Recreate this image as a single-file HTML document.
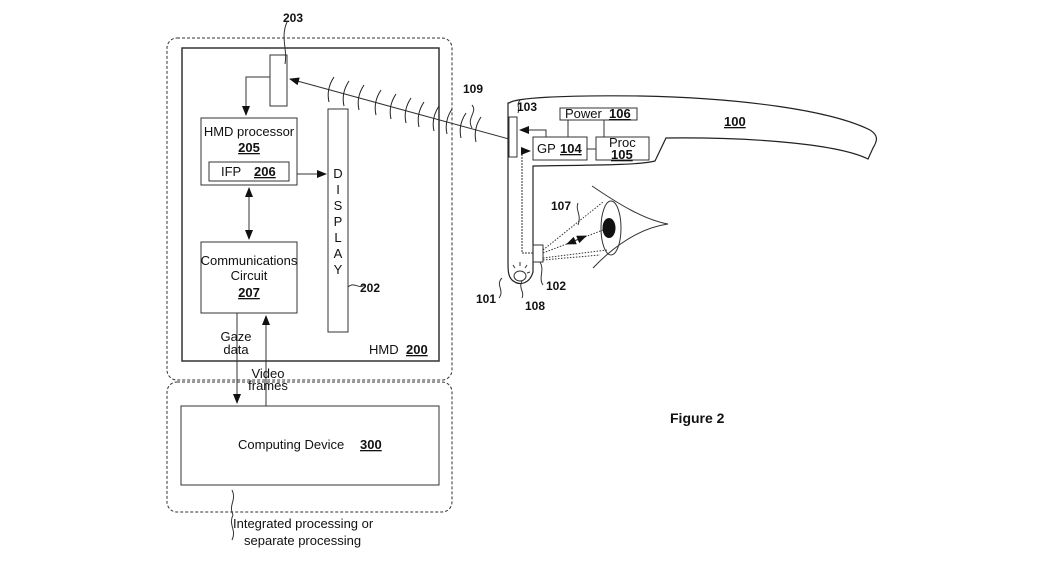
<!DOCTYPE html>
<html><head><meta charset="utf-8"><style>
html,body{margin:0;padding:0;background:#fff;}
svg{display:block;}
text{font-family:"Liberation Sans",Arial,sans-serif;fill:#111;}
.b{font-weight:bold;text-decoration:underline;}
</style></head><body>
<svg width="1046" height="571" viewBox="0 0 1046 571" xmlns="http://www.w3.org/2000/svg">
<defs>
<marker id="ar" markerWidth="10" markerHeight="8" refX="9" refY="4" orient="auto" markerUnits="userSpaceOnUse">
<path d="M0,0 L10,4 L0,8 z" fill="#111"/></marker>
<marker id="as" markerWidth="10" markerHeight="8" refX="1" refY="4" orient="auto" markerUnits="userSpaceOnUse">
<path d="M10,0 L0,4 L10,8 z" fill="#111"/></marker>
</defs>
<g fill="none" stroke="#333" stroke-width="1">
<rect x="167" y="38" width="285" height="342" rx="10" stroke-dasharray="3,2"/>
<rect x="167" y="382" width="285" height="130" rx="10" stroke-dasharray="3,2"/>
<rect x="182" y="48" width="257" height="313" stroke-width="1.5"/>
<rect x="270" y="55" width="17" height="51"/>
<rect x="201" y="118" width="96" height="67"/>
<rect x="209" y="162" width="80" height="19"/>
<rect x="328" y="109" width="20" height="223"/>
<rect x="201" y="242" width="96" height="71"/>
<rect x="181" y="406" width="258" height="79"/>
<path d="M270,77 H246 V115" marker-end="url(#ar)"/>
<path d="M297,174 H326" marker-end="url(#ar)"/>
<path d="M249,188 V239" marker-start="url(#as)" marker-end="url(#ar)"/>
<path d="M237,313 V403" marker-end="url(#ar)"/>
<path d="M266,406 V316" marker-end="url(#ar)"/>
<path d="M509,139 L290,79" marker-end="url(#ar)"/>
<path d="M285,64 C288,50 280,38 287,22"/>
<path d="M348,287 C355,281 358,290 365,285"/>
<path d="M233,515 C228,505 237,500 232,490 M233,515 C228,525 237,530 232,540" />
<path d="M472,105 C478,112 466,118 472,128" />
</g>
<g fill="none" stroke="#222" stroke-width="1">
<path d="M334,77 Q326,89 329,102"/><path d="M349,81 Q341,93 344,106"/>
<path d="M364,85 Q356,97 359,110"/><path d="M381,90 Q373,102 376,115"/>
<path d="M396,94 Q388,106 391,119"/><path d="M411,98 Q403,110 406,123"/>
<path d="M424,102 Q416,114 419,127"/><path d="M439,106 Q431,118 434,131"/>
<path d="M452,109 Q444,121 447,134"/><path d="M466,113 Q458,125 461,138"/>
<path d="M481,117 Q473,129 476,142"/>
</g>
<g fill="none" stroke="#222" stroke-width="1.2">
<path d="M509,103 C515,98 560,95 640,96 C740,98 830,110 870,130 C878,135 878,140 873,148 L868,159 C840,145 760,137 666,138 L655,161 C640,165 600,165 533,166 L533,272 C530,283 520,287 512,280 C508,276 508,270 508,262 L508,103 Z"/>
</g>
<g fill="none" stroke="#333" stroke-width="1">
<rect x="509" y="117" width="8" height="40" fill="#fff"/>
<rect x="560" y="108" width="77" height="12"/>
<rect x="533" y="137" width="54" height="23"/>
<rect x="596" y="137" width="53" height="23"/>
<path d="M568,120 V137 M604,120 V137 M587,149 H596"/>
<path d="M546,137 V130 H520" marker-end="url(#ar)"/>
<path d="M533,253 H522 V151 H530" stroke-dasharray="2,1" marker-end="url(#ar)"/>
<rect x="533" y="245" width="10" height="17"/>
<ellipse cx="520" cy="276" rx="6" ry="5"/>
<path d="M515,268 l-2,-3 M520,266 v-4 M525,268 l2,-3 M527,273 l3,-1"/>
<path d="M592,186 C620,205 645,220 668,224 C640,228 615,245 593,268"/>
<ellipse cx="611" cy="228" rx="10" ry="27"/>
<path d="M543,250 L603,202 M543,253 L603,230 M543,258 L607,250 M543,260 L600,255" stroke-dasharray="1.5,1.5"/>
<path d="M567,244 L586,236" marker-start="url(#as)" marker-end="url(#ar)"/>
<path d="M578,203 C575,210 582,215 578,225"/>
<path d="M518,113 C520,108 516,105 520,100"/>
<path d="M540,262 C545,270 538,278 543,285"/>
<path d="M499,298 C505,290 495,285 502,278"/>
<path d="M522,298 C525,292 518,288 522,281"/>
</g>
<ellipse cx="609" cy="228" rx="6.5" ry="10" fill="#111"/>
<g font-size="13">
<text x="283" y="22" font-weight="bold" font-size="12">203</text>
<text x="249" y="136" text-anchor="middle">HMD processor</text>
<text x="249" y="152" text-anchor="middle" class="b">205</text>
<text x="221" y="176">IFP</text><text x="254" y="176" class="b">206</text>
<g text-anchor="middle"><text x="338" y="178">D</text><text x="338" y="194">I</text><text x="338" y="210">S</text><text x="338" y="226">P</text><text x="338" y="242">L</text><text x="338" y="258">A</text><text x="338" y="274">Y</text></g>
<text x="249" y="265" text-anchor="middle">Communications</text>
<text x="249" y="280" text-anchor="middle">Circuit</text>
<text x="249" y="297" text-anchor="middle" class="b">207</text>
<text x="360" y="292" font-weight="bold" font-size="12">202</text>
<text x="369" y="354">HMD</text><text x="406" y="354" class="b">200</text>
<text x="236" y="341" text-anchor="middle">Gaze</text>
<text x="236" y="354" text-anchor="middle">data</text>
<text x="268" y="378" text-anchor="middle">Video</text>
<text x="268" y="390" text-anchor="middle">frames</text>
<text x="238" y="449">Computing Device</text><text x="360" y="449" class="b">300</text>
<text x="233" y="528">Integrated processing or</text>
<text x="244" y="545">separate processing</text>
<text x="463" y="93" font-weight="bold" font-size="12">109</text>
<text x="517" y="111" font-weight="bold" font-size="12">103</text>
<text x="565" y="118">Power</text><text x="609" y="118" class="b">106</text>
<text x="537" y="153">GP</text><text x="560" y="153" class="b">104</text>
<text x="609" y="147">Proc</text><text x="611" y="159" class="b">105</text>
<text x="724" y="126" class="b">100</text>
<text x="551" y="210" font-weight="bold" font-size="12">107</text>
<text x="546" y="290" font-weight="bold" font-size="12">102</text>
<text x="476" y="303" font-weight="bold" font-size="12">101</text>
<text x="525" y="310" font-weight="bold" font-size="12">108</text>
<text x="670" y="423" font-size="14" font-weight="bold">Figure 2</text>
</g>
</svg>
</body></html>
